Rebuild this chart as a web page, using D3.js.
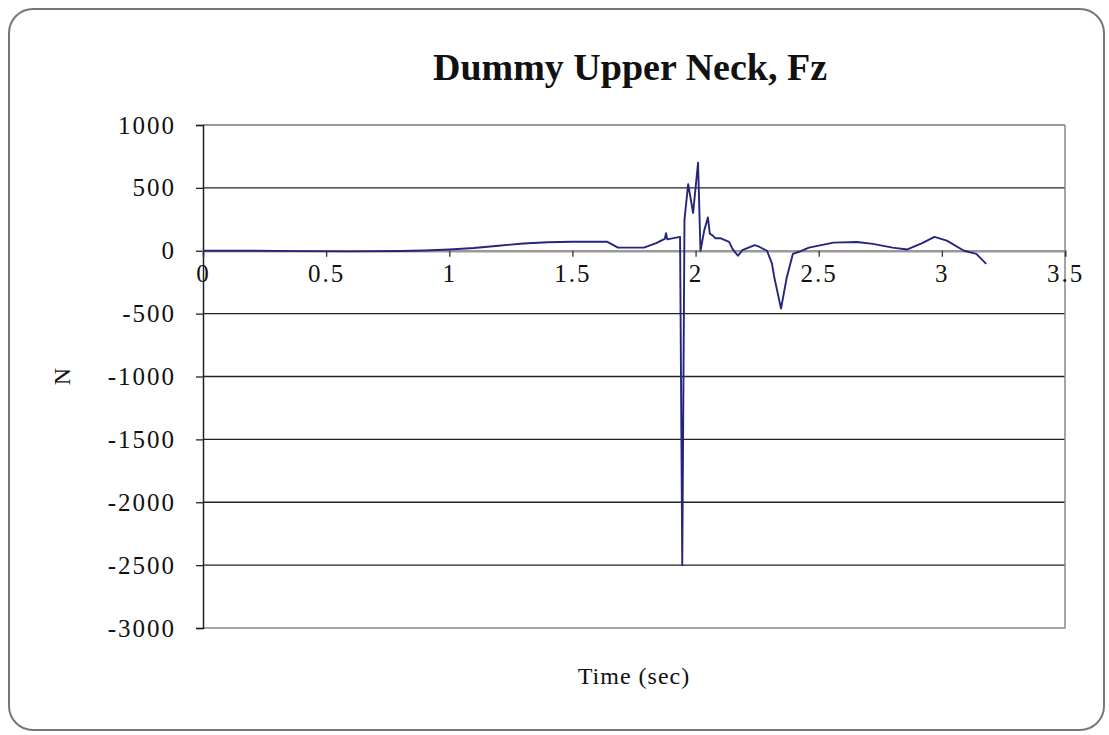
<!DOCTYPE html>
<html>
<head>
<meta charset="utf-8">
<script src="https://cdn.jsdelivr.net/npm/d3@7"></script>
<style>
  body { margin: 0; background: #fff; }
  text { font-family: "Liberation Serif", "Times New Roman", serif; fill: #111; }
</style>
</head>
<body>
<div id="chart"></div>
<script>
var times = [0, 0.2, 0.4, 0.6, 0.8, 0.9, 1.0, 1.1, 1.2, 1.3, 1.4, 1.5, 1.6, 1.64, 1.685, 1.72,
    1.79, 1.84, 1.875, 1.88, 1.885, 1.937, 1.946, 1.955, 1.97, 1.99, 2.01, 2.02, 2.035, 2.05,
    2.058, 2.07, 2.08, 2.1, 2.136, 2.15, 2.172, 2.19, 2.24, 2.26, 2.29, 2.31, 2.32, 2.347,
    2.37, 2.395, 2.42, 2.46, 2.56, 2.655, 2.72, 2.8, 2.86, 2.92, 2.97, 3.02, 3.09, 3.14, 3.18];
var force = [0, 0, -3, -5, -2, 2, 10, 22, 40, 58, 68, 72, 72, 72, 25, 25,
    25, 60, 95, 140, 90, 110, -2500, 250, 530, 300, 700, 0, 160, 265,
    135, 120, 100, 100, 70, 15, -40, 5, 45, 30, 0, -100, -215, -460,
    -215, -25, -8, 25, 65, 70, 55, 25, 10, 60, 110, 80, 0, -25, -105];

var xTicks = [0, 0.5, 1, 1.5, 2, 2.5, 3, 3.5];
var yTicks = [1000, 500, 0, -500, -1000, -1500, -2000, -2500, -3000];

var w = 1109, h = 735;
var plotL = 203, plotR = 1065, plotT = 125, plotB = 628;

var x = d3.scaleLinear().domain([0, 3.5]).range([plotL, plotR]);
var y = d3.scaleLinear().domain([-3000, 1000]).range([plotB, plotT]);

var svg = d3.select("#chart")
    .append("svg")
    .attr("width", w)
    .attr("height", h);

// outer frame
svg.append("rect")
    .attr("x", 9).attr("y", 9)
    .attr("width", 1095).attr("height", 721)
    .attr("rx", 24).attr("ry", 24)
    .style("fill", "#fff")
    .style("stroke", "#777")
    .style("stroke-width", 2);

// gridlines
svg.append("g")
    .selectAll("line")
    .data(yTicks.filter(function (d) { return d != 0 && d != -3000; }))
    .enter()
    .append("line")
    .attr("x1", plotL).attr("x2", plotR)
    .attr("y1", function (d) { return y(d); })
    .attr("y2", function (d) { return y(d); })
    .style("stroke", function (d) { return d == 1000 ? "#777" : "#222"; })
    .style("stroke-width", 1.3);

// plot border (right + bottom)
svg.append("path")
    .attr("d", "M" + plotR + "," + plotT + "V" + plotB + "H" + plotL)
    .style("fill", "none")
    .style("stroke", "#888")
    .style("stroke-width", 1.5);

// y axis
var yAxis = svg.append("g")
    .attr("transform", "translate(" + plotL + ",0)")
    .call(d3.axisLeft(y).tickValues(yTicks).tickSize(7).tickPadding(20)
        .tickFormat(function (d) { return String(d); }));
yAxis.select(".domain").style("stroke", "#222").style("stroke-width", 1.5);
yAxis.selectAll(".tick line").style("stroke", "#222").style("stroke-width", 1.3);
yAxis.selectAll("text")
    .style("font-size", "25px")
    .style("letter-spacing", "2px")
    .style("font-family", "Liberation Serif")
    .attr("fill", "#111");

// x axis on the zero line
var xAxis = svg.append("g")
    .attr("transform", "translate(0," + y(0) + ")")
    .call(d3.axisBottom(x).tickValues(xTicks).tickSize(6).tickPadding(7)
        .tickFormat(function (d) { return String(d); }));
xAxis.select(".domain").style("stroke", "#999").style("stroke-width", 2.5);
xAxis.selectAll(".tick line").style("stroke", "#333").style("stroke-width", 1.3);
xAxis.selectAll("text")
    .style("font-size", "25px")
    .style("letter-spacing", "2px")
    .style("font-family", "Liberation Serif")
    .attr("fill", "#111");

// data line
var line = d3.line()
    .x(function (d, i) { return x(times[i]); })
    .y(function (d) { return y(d); });

svg.append("path")
    .datum(force)
    .attr("d", line)
    .style("fill", "none")
    .style("stroke", "#25257e")
    .style("stroke-width", 1.9)
    .style("stroke-linejoin", "round");

// title and axis titles
svg.append("text")
    .attr("x", 630).attr("y", 80)
    .attr("text-anchor", "middle")
    .style("font-size", "38px")
    .style("font-weight", "bold")
    .text("Dummy Upper Neck, Fz");

svg.append("text")
    .attr("x", 634).attr("y", 684)
    .attr("text-anchor", "middle")
    .style("font-size", "24px")
    .style("letter-spacing", "1px")
    .text("Time (sec)");

svg.append("text")
    .attr("transform", "translate(70," + y(-1000) + ") rotate(-90)")
    .attr("text-anchor", "middle")
    .style("font-size", "24px")
    .text("N");
</script>
</body>
</html>
